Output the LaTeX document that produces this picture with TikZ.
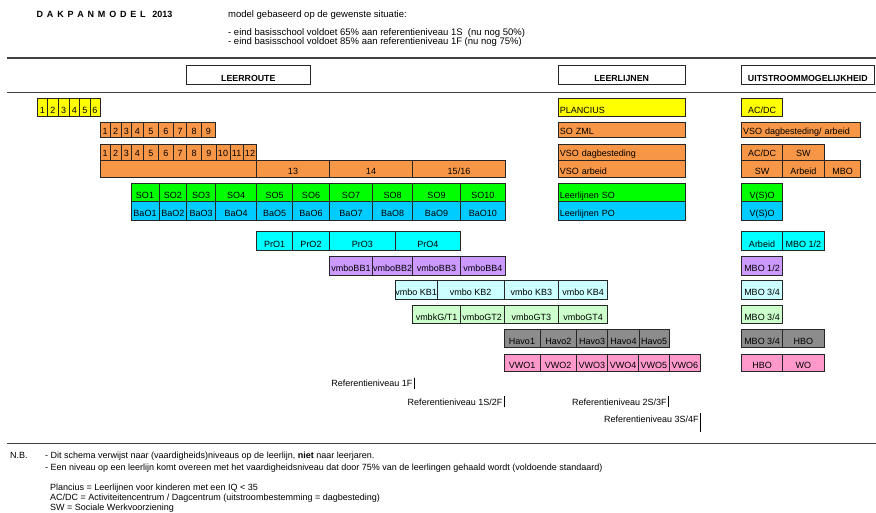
\documentclass[tikz,border=0pt]{standalone}
\usepackage{fontspec}
\setmainfont{Liberation Sans}
\usetikzlibrary{positioning}

\definecolor{geel}{HTML}{FFFF00}
\definecolor{oranje}{HTML}{F79646}
\definecolor{groen}{HTML}{00FF00}
\definecolor{blauw}{HTML}{00CCFF}
\definecolor{turkoois}{HTML}{00FFFF}
\definecolor{paars}{HTML}{CC99FF}
\definecolor{lichtblauw}{HTML}{CCFFFF}
\definecolor{lichtgroen}{HTML}{CCFFCC}
\definecolor{grijs}{HTML}{8C8C8C}
\definecolor{roze}{HTML}{FF99CC}

\tikzset{
  cell/.style={draw=black!85, line width=0.8pt, inner sep=0pt, outer sep=0pt, anchor=south west, text depth=3pt},
  lcell/.style={cell, align=left, inner xsep=1.5pt},
  kop/.style={cell, font=\fontsize{8.8}{10}\selectfont\bfseries},
  tekst/.style={anchor=base west, inner sep=0pt},
  refniveau/.style={anchor=base east, inner ysep=0pt, inner xsep=1.5pt, minimum height=11pt},
  scheiding/.style={line width=1.2pt, black!75},
  refbar/.style={line width=1pt},
}

% rij cellen: naam, boven, onder, kleur, {links/rechts/tekst,...}
\newcommand\cellrow[5]{%
  \pgfmathsetmacro\rowh{#3-#2-3}%
  \foreach \xa/\xb/\txt [count=\k] in {#5} {
    \node[cell, fill=#4, text height=\rowh pt, minimum width=\xb pt-\xa pt] (#1\k) at (\xa,#3) {\txt};
  }%
}

\begin{document}
\begin{tikzpicture}[x=1pt, y=-1pt, font=\fontsize{9}{10}\selectfont]
\useasboundingbox (0,0) rectangle (876,513);

\node[tekst, font=\fontsize{9}{11}\selectfont\bfseries] (titel) at (36.5,18) {\spaceskip=3.8pt D A K P A N M O D E L\hspace{3pt} 2013};
\node[tekst, font=\fontsize{9.5}{10}\selectfont] (model) at (228,18) {model gebaseerd op de gewenste situatie:};
\node[tekst, font=\fontsize{9.5}{10}\selectfont] (eis1) at (228,35.5) {- eind basisschool voldoet 65\% aan referentieniveau 1S\ \ (nu nog 50\%)};
\node[tekst, font=\fontsize{9.5}{10}\selectfont] (eis2) at (228,44.5) {- eind basisschool voldoet 85\% aan referentieniveau 1F (nu nog 75\%)};
\draw[scheiding] (7,58) -- (876,58);

\node[kop, minimum width=124.7pt, text height=15.6pt] (leerroute) at (186,84.3) {LEERROUTE};
\node[kop, minimum width=126.7pt, text height=15.6pt] (leerlijnen) at (558.3,84.3) {LEERLIJNEN};
\node[kop, minimum width=132.3pt, text height=15.6pt] (uitstroom) at (741.7,84.3) {UITSTROOMMOGELIJKHEID};
\draw[scheiding] (7,92.3) -- (876,92.3);

\cellrow{pj}{98.3}{116.7}{geel}{37/47.7/1, 47.7/58.3/2, 58.3/69/3, 69/79.7/4, 79.7/90/5, 90/100/6}
\cellrow{zml}{122.3}{137.7}{oranje}{100/110.3/1, 110.3/121/2, 121/131.7/3, 131.7/143.3/4, 143.3/158.3/5, 158.3/173.7/6, 173.7/186.7/7, 186.7/201.7/8, 201.7/215/9}
\cellrow{vso}{144}{160}{oranje}{100/110.3/1, 110.3/121/2, 121/131.7/3, 131.7/143.3/4, 143.3/158.3/5, 158.3/173.7/6, 173.7/186.7/7, 186.7/201.7/8, 201.7/216/9, 216/230/10, 230/243.3/11, 243.3/256.7/12}
\cellrow{jr}{160}{177.7}{oranje}{100/256.7/{}, 256.7/329.3/13, 329.3/412.7/14, 412.7/505.3/{15/16}}
\cellrow{so}{183.3}{201.7}{groen}{131/159/SO1, 159/186.7/SO2, 186.7/215.7/SO3, 215.7/256.7/SO4, 256.7/292.7/SO5, 292.7/329.3/SO6, 329.3/372.7/SO7, 372.7/412.7/SO8, 412.7/460.3/SO9, 460.3/505.3/SO10}
\cellrow{bao}{201.7}{220}{blauw}{131/159/BaO1, 159/186.7/BaO2, 186.7/215.7/BaO3, 215.7/256.7/BaO4, 256.7/292.7/BaO5, 292.7/329.3/BaO6, 329.3/372.7/BaO7, 372.7/412.7/BaO8, 412.7/460.3/BaO9, 460.3/505.3/BaO10}
\cellrow{pro}{231.7}{250.3}{turkoois}{256.7/292.7/PrO1, 292.7/329.3/PrO2, 329.3/395.3/PrO3, 395.3/460.3/PrO4}
\cellrow{bb}{256.7}{275}{paars}{329.3/372.7/vmboBB1, 372.7/412.7/vmboBB2, 412.7/460.3/vmboBB3, 460.3/505.3/vmboBB4}
\cellrow{kb}{280.7}{299}{lichtblauw}{395/437.3/vmbo KB1, 437.3/504/vmbo KB2, 504/558.7/vmbo KB3, 558.7/607.7/vmbo KB4}
\cellrow{gt}{305.7}{323.3}{lichtgroen}{412.7/460.3/{vmbkG/T1}, 460.3/504/vmboGT2, 504/558.7/vmboGT3, 558.7/607.7/vmboGT4}
\cellrow{havo}{329.3}{347.3}{grijs}{504/540/Havo1, 540/576.7/Havo2, 576.7/607.7/Havo3, 607.7/639.3/Havo4, 639.3/669/Havo5}
\cellrow{vwo}{354}{371.7}{roze}{504/540/VWO1, 540/576.3/VWO2, 576.3/607.5/VWO3, 607.5/638.5/VWO4, 638.5/669.2/VWO5, 669.2/700.7/VWO6}

\node[lcell, fill=geel, text height=15.4pt, text width=123.7pt] (ll1) at (558.3,116.7) {PLANCIUS};
\node[lcell, fill=oranje, text height=12.4pt, text width=123.7pt] (ll2) at (558.3,137.7) {SO ZML};
\node[lcell, fill=oranje, text height=13pt, text width=123.7pt] (ll3) at (558.3,160) {VSO dagbesteding};
\node[lcell, fill=oranje, text height=14.7pt, text width=123.7pt] (ll4) at (558.3,177.7) {VSO arbeid};
\node[lcell, fill=groen, text height=15.4pt, text width=123.7pt] (ll5) at (558.3,201.7) {Leerlijnen SO};
\node[lcell, fill=blauw, text height=15.3pt, text width=123.7pt] (ll6) at (558.3,220) {Leerlijnen PO};

\cellrow{ua}{98.3}{116.7}{geel}{741.7/782.3/{AC/DC}}
\node[lcell, fill=oranje, text height=12.4pt, text width=116pt] (ub1) at (741.7,137.7) {VSO dagbesteding/ arbeid};
\cellrow{uc}{144}{160}{oranje}{741.7/782.3/{AC/DC}, 782.3/824.3/SW}
\cellrow{ud}{160}{177.7}{oranje}{741.7/782.3/SW, 782.3/824.3/Arbeid, 824.3/860.7/MBO}
\cellrow{ue}{183.3}{201.7}{groen}{741.7/782.3/V(S)O}
\cellrow{uf}{201.7}{220}{blauw}{741.7/782.3/V(S)O}
\cellrow{ug}{231.7}{250.3}{turkoois}{741.7/782.3/Arbeid, 782.3/824.3/{MBO 1/2}}
\cellrow{uh}{256.7}{275}{paars}{741.7/782.3/{MBO 1/2}}
\cellrow{ui}{280.7}{299}{lichtblauw}{741.7/782.3/{MBO 3/4}}
\cellrow{uj}{305.7}{323.3}{lichtgroen}{741.7/782.3/{MBO 3/4}}
\cellrow{uk}{329.3}{347.3}{grijs}{741.7/782.3/{MBO 3/4}, 782.3/824.3/HBO}
\cellrow{ul}{354}{371.7}{roze}{741.7/782.3/HBO, 782.3/824.3/WO}

\node[refniveau] (ref1) at (414,386.5) {Referentieniveau 1F};
\node[refniveau] (ref2) at (504,405) {Referentieniveau 1S/2F};
\node[refniveau] (ref3) at (668.3,405) {Referentieniveau 2S/3F};
\node[refniveau] (ref4) at (700.3,422) {Referentieniveau 3S/4F};
\draw[refbar] (ref1.north east) -- (ref1.south east);
\draw[refbar] (ref2.north east) -- (ref2.south east);
\draw[refbar] (ref3.north east) -- (ref3.south east);
\draw[refbar] (ref4.north east) -- ([yshift=-8pt]ref4.south east);

\draw[scheiding] (7,443.3) -- (876,443.3);
\node[tekst] (nb) at (10,458) {N.B.};
\node[tekst] (nb1) at (45,458) {- Dit schema verwijst naar (vaardigheids)niveaus op de leerlijn, \textbf{niet} naar leerjaren.};
\node[tekst] (nb2) at (45,470.5) {- Een niveau op een leerlijn komt overeen met het vaardigheidsniveau dat door 75\% van de leerlingen gehaald wordt (voldoende standaard)};
\node[tekst] (afk1) at (50,490.5) {Plancius = Leerlijnen voor kinderen met een IQ < 35};
\node[tekst] (afk2) at (50,500.5) {AC/DC = Activiteitencentrum / Dagcentrum (uitstroombestemming = dagbesteding)};
\node[tekst] (afk3) at (50,510.5) {SW = Sociale Werkvoorziening};
\end{tikzpicture}
\end{document}
